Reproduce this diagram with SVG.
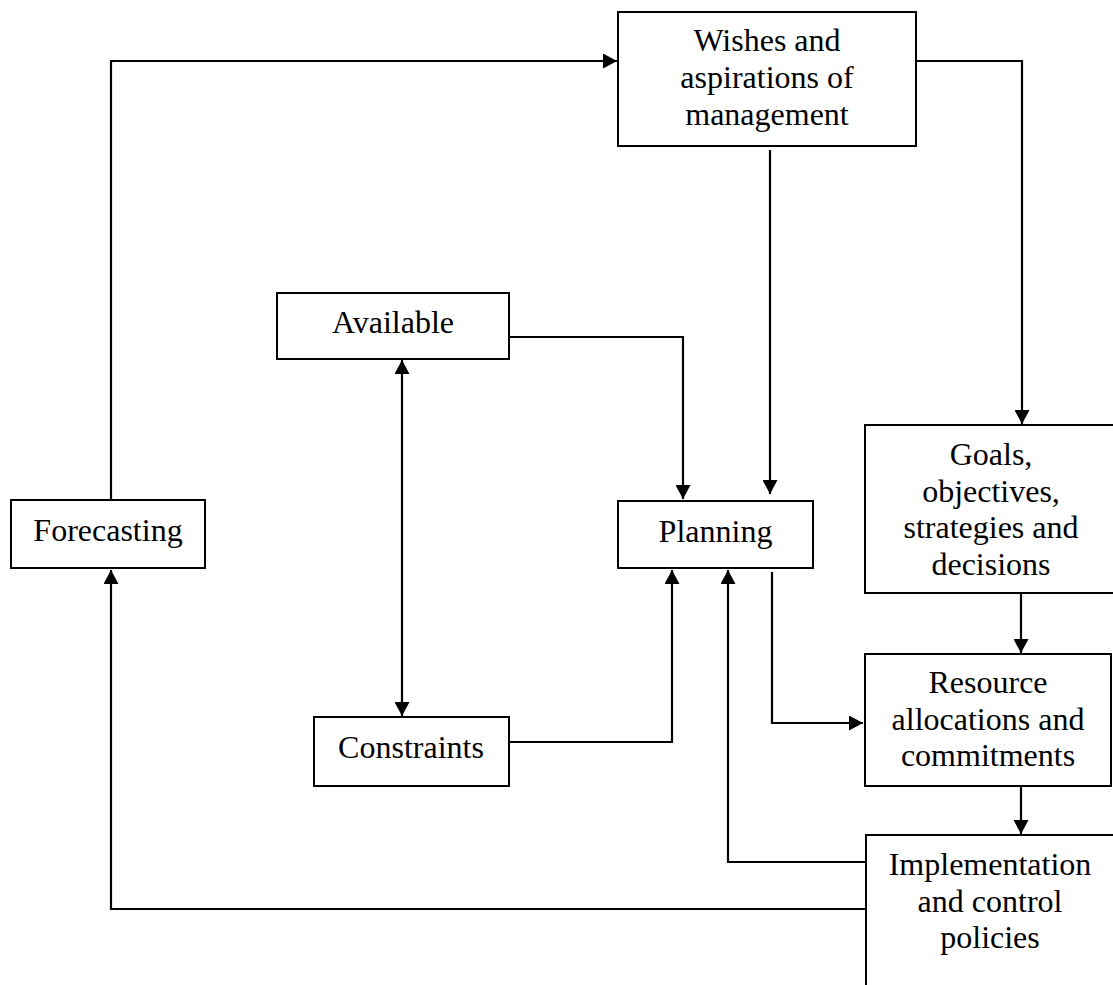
<svg xmlns="http://www.w3.org/2000/svg" width="1113" height="985" viewBox="0 0 1113 985">
<style>
.box{fill:#fff;stroke:#000;stroke-width:2}
.t{font-family:"Liberation Serif","Times New Roman",serif;font-size:32px;fill:#000;text-anchor:middle}
.c{fill:none;stroke:#000;stroke-width:2.2}
</style>
<defs>
<marker id="ah" markerUnits="userSpaceOnUse" markerWidth="15" markerHeight="15" refX="14" refY="7.5" orient="auto-start-reverse">
<path d="M0,0 L14,7.5 L0,15 z" fill="#000"/>
</marker>
</defs>
<rect width="1113" height="985" fill="#fff"/>
<g id="connectors">
<path class="c" d="M111,500 V61 H617" marker-end="url(#ah)"/>
<path class="c" d="M916,61 H1022 V424" marker-end="url(#ah)"/>
<path class="c" d="M770,150 V494" marker-end="url(#ah)"/>
<path class="c" d="M509,337 H683 V499" marker-end="url(#ah)"/>
<path class="c" d="M402,360 V716" marker-start="url(#ah)" marker-end="url(#ah)"/>
<path class="c" d="M509,742 H672 V570" marker-end="url(#ah)"/>
<path class="c" d="M866,862 H728 V570" marker-end="url(#ah)"/>
<path class="c" d="M772,572 V723 H863" marker-end="url(#ah)"/>
<path class="c" d="M1021,593 V653" marker-end="url(#ah)"/>
<path class="c" d="M1021,786 V834" marker-end="url(#ah)"/>
<path class="c" d="M866,909 H111 V570" marker-end="url(#ah)"/>
</g>
<g id="wishes">
<rect class="box" x="618" y="12" width="298" height="134"/>
<text class="t" x="767" y="51">Wishes and</text>
<text class="t" x="767" y="88">aspirations of</text>
<text class="t" x="767" y="125">management</text>
</g>
<g id="available">
<rect class="box" x="277" y="293" width="232" height="66"/>
<text class="t" x="393" y="333">Available</text>
</g>
<g id="forecasting">
<rect class="box" x="11" y="500" width="194" height="68"/>
<text class="t" x="108" y="541">Forecasting</text>
</g>
<g id="planning">
<rect class="box" x="618" y="501" width="195" height="67"/>
<text class="t" x="715.5" y="542">Planning</text>
</g>
<g id="constraints">
<rect class="box" x="314" y="717" width="195" height="69"/>
<text class="t" x="411" y="758">Constraints</text>
</g>
<g id="goals">
<rect class="box" x="865" y="425" width="252" height="168"/>
<text class="t" x="991" y="465">Goals,</text>
<text class="t" x="991" y="502">objectives,</text>
<text class="t" x="991" y="538">strategies and</text>
<text class="t" x="991" y="575">decisions</text>
</g>
<g id="resource">
<rect class="box" x="865" y="654" width="246" height="132"/>
<text class="t" x="988" y="693">Resource</text>
<text class="t" x="988" y="730">allocations and</text>
<text class="t" x="988" y="766">commitments</text>
</g>
<g id="implementation">
<rect class="box" x="866" y="835" width="252" height="160"/>
<text class="t" x="990" y="875">Implementation</text>
<text class="t" x="990" y="912">and control</text>
<text class="t" x="990" y="948">policies</text>
</g>
</svg>
